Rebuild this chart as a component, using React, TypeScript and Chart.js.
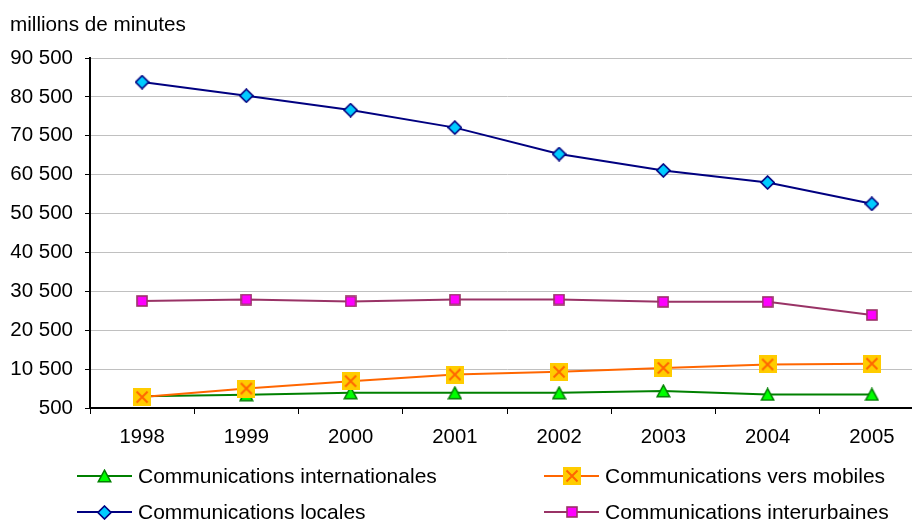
import React, { useEffect, useRef } from 'react';
import { Chart, registerables } from 'chart.js';

Chart.register(...registerables);

const years = ['1998', '1999', '2000', '2001', '2002', '2003', '2004', '2005'];
const internationales = [3500, 3900, 4400, 4400, 4400, 4900, 4000, 4000];
const mobiles = [3300, 5500, 7400, 9100, 9800, 10800, 11700, 11900];
const locales = [84300, 80800, 77100, 72600, 65800, 61600, 58500, 53000];
const interurbaines = [28000, 28400, 27900, 28400, 28400, 27800, 27800, 24400];
const yMin = 500;
const yMax = 90500;
const yStep = 10000;
const unitLabel = 'millions de minutes';

const FONT = "'Liberation Sans', Arial, sans-serif";

function makeCanvas(w: number, h: number, draw: (ctx: CanvasRenderingContext2D) => void) {
  const c = document.createElement('canvas');
  c.width = w;
  c.height = h;
  const ctx = c.getContext('2d')!;
  draw(ctx);
  return c;
}

function fmt(v: number) {
  return String(v).replace(/\B(?=(\d{3})+(?!\d))/g, ' ');
}

export default function App() {
  const ref = useRef<HTMLCanvasElement | null>(null);

  useEffect(() => {
    const triangle = makeCanvas(15, 14, (ctx) => {
      ctx.beginPath();
      ctx.moveTo(7.5, 1.2);
      ctx.lineTo(13.8, 12.8);
      ctx.lineTo(1.2, 12.8);
      ctx.closePath();
      ctx.fillStyle = '#00ff00';
      ctx.fill();
      ctx.lineWidth = 1.5;
      ctx.strokeStyle = '#008000';
      ctx.stroke();
    });
    const cross = makeCanvas(18, 18, (ctx) => {
      ctx.fillStyle = '#ffcc00';
      ctx.fillRect(0, 0, 18, 18);
      ctx.strokeStyle = '#ff6600';
      ctx.lineWidth = 2;
      ctx.beginPath();
      ctx.moveTo(3.5, 3.5);
      ctx.lineTo(14.5, 14.5);
      ctx.moveTo(14.5, 3.5);
      ctx.lineTo(3.5, 14.5);
      ctx.stroke();
    });
    const diamond = makeCanvas(15, 15, (ctx) => {
      ctx.beginPath();
      ctx.moveTo(7.5, 1);
      ctx.lineTo(14, 7.5);
      ctx.lineTo(7.5, 14);
      ctx.lineTo(1, 7.5);
      ctx.closePath();
      ctx.fillStyle = '#00ccff';
      ctx.fill();
      ctx.lineWidth = 1.6;
      ctx.strokeStyle = '#000080';
      ctx.stroke();
    });
    const square = makeCanvas(12, 12, (ctx) => {
      ctx.fillStyle = '#ff00ff';
      ctx.fillRect(1, 1, 10, 10);
      ctx.lineWidth = 1.6;
      ctx.strokeStyle = '#993366';
      ctx.strokeRect(1, 1, 10, 10);
    });

    const series = [
      { label: 'Communications vers mobiles', data: mobiles, color: '#ff6600', img: cross, col: 1, row: 0 },
      { label: 'Communications internationales', data: internationales, color: '#008000', img: triangle, col: 0, row: 0 },
      { label: 'Communications locales', data: locales, color: '#000080', img: diamond, col: 0, row: 1 },
      { label: 'Communications interurbaines', data: interurbaines, color: '#993366', img: square, col: 1, row: 1 },
    ];

    const extras = {
      id: 'extras',
      afterDraw(chart: any) {
        const ctx = chart.ctx as CanvasRenderingContext2D;
        ctx.save();
        ctx.fillStyle = '#000';
        ctx.font = `20.7px ${FONT}`;
        ctx.textBaseline = 'middle';
        ctx.textAlign = 'left';
        ctx.fillText(unitLabel, 10, 25);
        const colX = [77, 544];
        const rowY = [476, 512];
        for (const s of series) {
          const x = colX[s.col];
          const y = rowY[s.row];
          ctx.strokeStyle = s.color;
          ctx.lineWidth = 2;
          ctx.beginPath();
          ctx.moveTo(x, y);
          ctx.lineTo(x + 55, y);
          ctx.stroke();
          ctx.drawImage(s.img, Math.round(x + 27.5 - s.img.width / 2), Math.round(y - s.img.height / 2));
          ctx.fillStyle = '#000';
          ctx.font = `21px ${FONT}`;
          ctx.fillText(s.label, x + 61, y + 1);
        }
        ctx.restore();
      },
    };

    const chart = new Chart(ref.current!, {
      type: 'line',
      data: {
        labels: years,
        datasets: series.map((s) => ({
          label: s.label,
          data: s.data,
          borderColor: s.color,
          backgroundColor: s.color,
          borderWidth: 2,
          pointStyle: s.img as any,
          pointRadius: 7,
          tension: 0,
          fill: false,
        })),
      },
      options: {
        responsive: false,
        animation: false,
        devicePixelRatio: 1,
        layout: { padding: { left: 0, right: 16, top: 58, bottom: 65 } },
        plugins: {
          legend: { display: false },
          title: { display: false },
          tooltip: { enabled: false },
        },
        scales: {
          x: {
            type: 'category',
            offset: true,
            grid: {
              display: true,
              offset: true,
              drawOnChartArea: false,
              drawTicks: true,
              tickLength: 6,
              tickColor: '#000',
              tickWidth: 1,
            },
            border: { color: '#000', width: 2 },
            ticks: {
              color: '#000',
              font: { family: FONT, size: 20.3 },
              padding: 11,
              maxRotation: 0,
              autoSkip: false,
            },
            afterFit: (s: any) => {
              s.height = 50;
            },
          },
          y: {
            min: yMin,
            max: yMax,
            grid: {
              color: '#c0c0c0',
              lineWidth: 1,
              tickColor: '#000',
              tickLength: 5,
              drawTicks: true,
            },
            border: { color: '#000', width: 2 },
            ticks: {
              stepSize: yStep,
              color: '#000',
              font: { family: FONT, size: 20.5 },
              padding: 12,
              callback: (v: any) => fmt(Number(v)),
            },
            afterFit: (s: any) => {
              s.width = 90;
            },
          },
        },
      },
      plugins: [extras],
    });
    return () => chart.destroy();
  }, []);

  return (
    <div style={{ position: 'absolute', left: 0, top: 0, width: 912, height: 523, overflow: 'hidden', background: '#fff' }}>
      <canvas ref={ref} width={940} height={523} style={{ display: 'block' }} />
    </div>
  );
}
